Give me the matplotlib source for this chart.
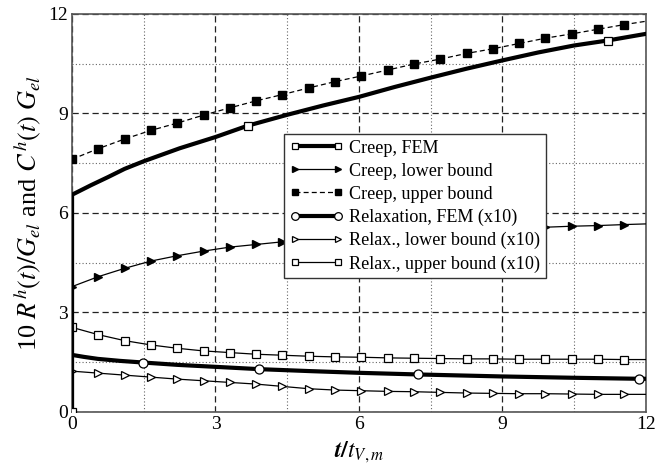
import matplotlib
matplotlib.use("Agg")
import matplotlib.pyplot as plt
from matplotlib.ticker import MultipleLocator

plt.rcParams['font.family'] = ['Liberation Serif', 'DejaVu Serif']
plt.rcParams['mathtext.fontset'] = 'stix'

# marker sample times (t / t_V,m)
t_b = [0, 0.55, 1.1, 1.65, 2.2, 2.75, 3.3, 3.85, 4.4, 4.95, 5.5, 6.05, 6.6,
       7.15, 7.7, 8.25, 8.8, 9.35, 9.9, 10.45, 11.0, 11.55, 12.0]

creep_upper = [7.62, 7.94, 8.23, 8.49, 8.71, 8.95, 9.17, 9.38, 9.57, 9.77, 9.96, 10.13,
               10.31, 10.49, 10.64, 10.81, 10.95, 11.11, 11.27, 11.40, 11.54, 11.68, 11.78]
creep_lower = [3.78, 4.08, 4.33, 4.55, 4.71, 4.85, 4.97, 5.05, 5.13, 5.20, 5.26, 5.31,
               5.36, 5.41, 5.45, 5.48, 5.51, 5.54, 5.57, 5.60, 5.62, 5.65, 5.67]
relax_upper = [2.55, 2.33, 2.15, 2.02, 1.92, 1.84, 1.79, 1.74, 1.71, 1.68, 1.66, 1.65,
               1.63, 1.62, 1.61, 1.60, 1.60, 1.59, 1.59, 1.59, 1.59, 1.58, 1.58]
relax_lower = [1.23, 1.17, 1.11, 1.05, 0.99, 0.94, 0.89, 0.84, 0.77, 0.70, 0.66, 0.64,
               0.62, 0.61, 0.59, 0.57, 0.56, 0.55, 0.55, 0.54, 0.53, 0.53, 0.53]

t_creep_fem = [0, 0, 0.4, 0.75, 1.1, 1.5, 2.25, 3.0, 3.67, 4.5, 5.25, 6.0, 6.75,
               7.5, 8.25, 9.0, 9.75, 10.5, 11.2, 12.0]
creep_fem = [0, 6.55, 6.84, 7.08, 7.33, 7.56, 7.95, 8.29, 8.63, 8.96, 9.24, 9.50, 9.80,
             10.08, 10.35, 10.60, 10.84, 11.05, 11.20, 11.40]

t_relax_fem = [0, 0.25, 0.54, 1.0, 1.49, 2.2, 3.0, 3.92, 5.0, 6.0, 7.24, 9.0, 10.5, 11.86, 12.0]
relax_fem = [1.72, 1.66, 1.60, 1.54, 1.49, 1.42, 1.36, 1.29, 1.23, 1.18, 1.13, 1.07, 1.03, 1.00, 1.00]

labels = ["Creep, FEM", "Creep, lower bound", "Creep, upper bound",
          "Relaxation, FEM (x10)", "Relax., lower bound (x10)", "Relax., upper bound (x10)"]

fig = plt.figure(figsize=(6.55, 4.66), dpi=100)
ax = fig.add_axes([0.110, 0.116, 0.876, 0.854])

ms = 5.5
mk_b = list(range(len(t_b) - 1))

ax.plot(t_creep_fem, creep_fem, '-', color='black', lw=3.0, marker='s', ms=ms,
        mfc='white', mec='black', mew=0.9, markevery=[0, 8, 18], label=labels[0], zorder=5)
ax.plot(t_b, creep_lower, '-', color='black', lw=0.9, marker='>', ms=ms,
        mfc='black', mec='black', markevery=mk_b, label=labels[1], zorder=4)
ax.plot(t_b, creep_upper, '--', color='black', lw=0.9, dashes=(4, 2.5), marker='s', ms=ms,
        mfc='black', mec='black', markevery=mk_b, label=labels[2], zorder=4)
ax.plot(t_relax_fem, relax_fem, '-', color='black', lw=3.0, marker='o', ms=6.5,
        mfc='white', mec='black', mew=0.9, markevery=[4, 7, 10, 13], label=labels[3], zorder=5)
ax.plot(t_b, relax_lower, '-', color='black', lw=0.9, marker='>', ms=ms,
        mfc='white', mec='black', mew=0.9, markevery=mk_b, label=labels[4], zorder=4)
ax.plot(t_b, relax_upper, '-', color='black', lw=0.9, marker='s', ms=ms,
        mfc='white', mec='black', mew=0.9, markevery=mk_b, label=labels[5], zorder=4)

ax.set_xlim(0, 12)
ax.set_ylim(0, 12)
ax.xaxis.set_major_locator(MultipleLocator(3))
ax.yaxis.set_major_locator(MultipleLocator(3))
ax.xaxis.set_minor_locator(MultipleLocator(1.5))
ax.yaxis.set_minor_locator(MultipleLocator(1.5))
ax.grid(which='major', color='#222222', linestyle=(0, (5, 3)), linewidth=0.9)
ax.grid(which='minor', color='#666666', linestyle=(0, (1, 2)), linewidth=0.8)
ax.set_axisbelow(True)
ax.tick_params(which='both', length=0, labelsize=14, pad=3)
for s in ax.spines.values():
    s.set_color('#555555')
    s.set_linewidth(1.2)

ax.set_xlabel(r'$\boldsymbol{t/t_{V,m}}$', fontsize=17, labelpad=5)
ax.set_ylabel(r'10 $R^{h}(t)/G_{el}$ and $C^{h}(t)\ G_{el}$', fontsize=19, labelpad=3)

leg = ax.legend(loc='upper left', bbox_to_anchor=(0.369, 0.698), fontsize=13.1,
                frameon=True, fancybox=False, framealpha=1, edgecolor='#333333',
                handlelength=3.0, handletextpad=0.3, labelspacing=0.33,
                borderpad=0.3, borderaxespad=0, numpoints=2, markerscale=0.85)
leg.get_frame().set_linewidth(1.0)

fig.savefig('out.png', dpi=100)
